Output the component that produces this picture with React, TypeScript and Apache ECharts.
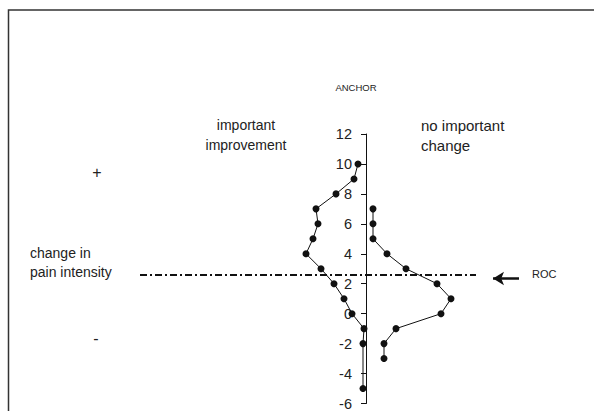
import React, { useEffect, useRef } from "react";
import * as echarts from "echarts";

// change in pain intensity (y) vs. relative frequency (x, left = important improvement, right = no important change)
const improvementY = [10, 9, 8, 7, 6, 5, 4, 3, 2, 1, 0, -1, -2, -5];
const improvementX = [-8, -12, -30, -50, -48, -53, -60, -45, -32, -22, -14, -2, -3, -3];
const noChangeY = [7, 6, 5, 4, 3, 2, 1, 0, -1, -2, -3];
const noChangeX = [7, 7, 7, 21, 40, 71, 85, 75, 30, 18, 18];
const rocCutoff = 2.6;
const rocLineX = [-226, 110];
const arrowY = 2.35;
const arrowX = [153, 127];
const yTicks = [-6, 12];
const xRange = [-230, 220];

const FONT = "'Liberation Sans', Arial, sans-serif";

export default function App() {
  const ref = useRef<HTMLDivElement>(null);
  useEffect(() => {
    if (!ref.current) return;
    const chart = echarts.init(ref.current, null, { renderer: "svg" });
    const leftData = improvementY.map((y, i) => [improvementX[i], y]);
    const rightData = noChangeY.map((y, i) => [noChangeX[i], y]);
    chart.setOption({
      animation: false,
      backgroundColor: "#ffffff",
      textStyle: { fontFamily: FONT },
      grid: { left: 136, width: 450, top: 134, height: 270 },
      xAxis: {
        type: "value",
        min: xRange[0],
        max: xRange[1],
        show: false,
      },
      yAxis: {
        type: "value",
        min: yTicks[0],
        max: yTicks[1],
        interval: 2,
        offset: xRange[0],
        axisLine: { show: true, onZero: false, lineStyle: { color: "#111", width: 1 } },
        axisTick: { show: true, length: 5, lineStyle: { color: "#111" } },
        axisLabel: { color: "#222", fontSize: 14.5, margin: 14, fontFamily: FONT },
        splitLine: { show: false },
      },
      series: [
        {
          type: "line",
          data: leftData,
          clip: false,
          symbol: "circle",
          symbolSize: 7,
          itemStyle: { color: "#111" },
          lineStyle: { color: "#111", width: 1 },
          markLine: {
            silent: true,
            symbol: "none",
            label: { show: false },
            lineStyle: { color: "#111", width: 2, type: [7, 3, 2, 3] },
            data: [[{ coord: [rocLineX[0], rocCutoff] }, { coord: [rocLineX[1], rocCutoff] }]],
          },
        },
        {
          type: "line",
          data: rightData,
          clip: false,
          symbol: "circle",
          symbolSize: 7,
          itemStyle: { color: "#111" },
          lineStyle: { color: "#111", width: 1 },
          markLine: {
            silent: true,
            symbol: ["none", "arrow"],
            symbolSize: [10, 11],
            label: { show: false },
            lineStyle: { color: "#111", width: 2.5, type: "solid" },
            data: [[{ coord: [arrowX[0], arrowY] }, { coord: [arrowX[1], arrowY] }]],
          },
        },
      ],
      graphic: [
        {
          type: "rect",
          shape: { x: 8.5, y: 10, width: 800, height: 800 },
          style: { fill: "none", stroke: "#333", lineWidth: 1.5 },
          silent: true,
        },
        {
          type: "text",
          x: 356,
          y: 87,
          style: { text: "ANCHOR", fontSize: 9.5, fill: "#222", align: "center", verticalAlign: "middle", fontFamily: FONT },
        },
        {
          type: "text",
          x: 246,
          y: 135,
          style: {
            text: "important\nimprovement",
            fontSize: 14,
            lineHeight: 20,
            fill: "#222",
            align: "center",
            verticalAlign: "middle",
            fontFamily: FONT,
          },
        },
        {
          type: "text",
          x: 421,
          y: 135,
          style: {
            text: "no important\nchange",
            fontSize: 15,
            lineHeight: 20,
            fill: "#222",
            align: "left",
            verticalAlign: "middle",
            fontFamily: FONT,
          },
        },
        {
          type: "text",
          x: 97,
          y: 172,
          style: { text: "+", fontSize: 16, fill: "#222", align: "center", verticalAlign: "middle", fontFamily: FONT },
        },
        {
          type: "text",
          x: 96,
          y: 338,
          style: { text: "-", fontSize: 16, fill: "#222", align: "center", verticalAlign: "middle", fontFamily: FONT },
        },
        {
          type: "text",
          x: 30,
          y: 262,
          style: {
            text: "change in\npain intensity",
            fontSize: 14,
            lineHeight: 19,
            fill: "#222",
            align: "left",
            verticalAlign: "middle",
            fontFamily: FONT,
          },
        },
        {
          type: "text",
          x: 532,
          y: 274,
          style: { text: "ROC", fontSize: 11, fill: "#222", align: "left", verticalAlign: "middle", fontFamily: FONT },
        },
      ],
    });
    return () => chart.dispose();
  }, []);
  return (
    <div
      ref={ref}
      style={{ position: "fixed", left: 0, top: 0, width: 594, height: 411, background: "#fff" }}
    />
  );
}
